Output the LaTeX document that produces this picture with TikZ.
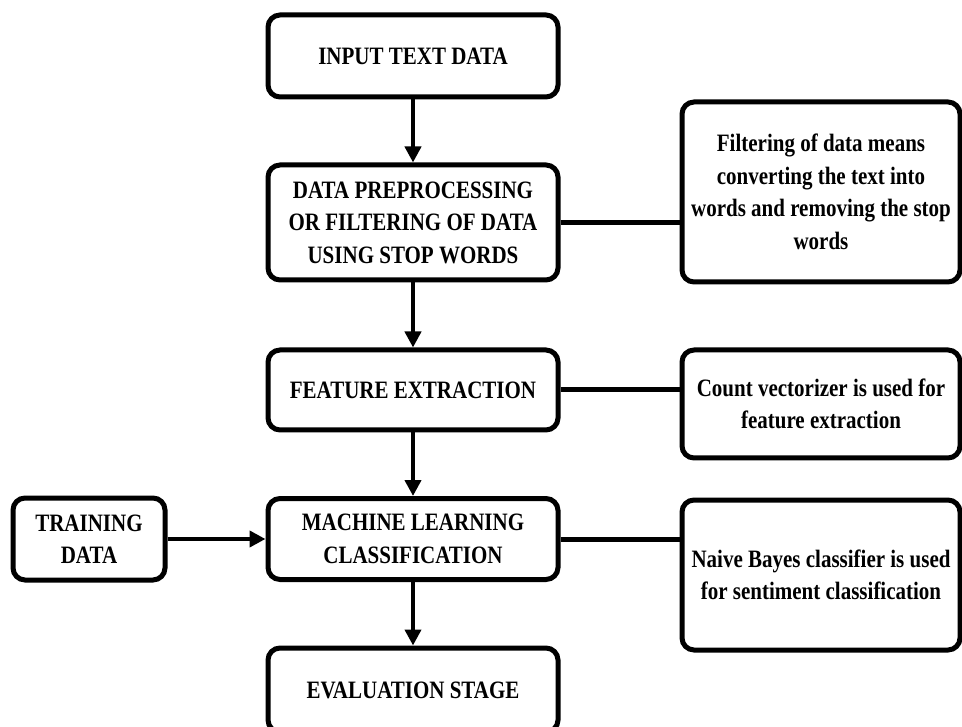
\documentclass[tikz,border=0pt]{standalone}
\usepackage{fontspec}
\setmainfont{Liberation Serif}[FakeStretch=0.84]
\usetikzlibrary{arrows.meta}
\tikzset{
  box/.style={draw=black, line width=5pt, rounded corners=12pt, fill=white,
    align=center, inner sep=0pt, font=\fontsize{25}{32.5}\selectfont\bfseries},
  arr/.style={line width=4.5pt, -{Triangle[length=16pt,width=16pt]}},
  ln/.style={line width=5pt}
}
\begin{document}
\begin{tikzpicture}[x=1pt,y=-1pt]
\useasboundingbox (0,0) rectangle (962,727);
\node[box, minimum width=290, minimum height=82] (input) at (413,56) {INPUT TEXT DATA};
\node[box, minimum width=290, minimum height=115] (prep) at (413,222.5) {DATA PREPROCESSING\\OR FILTERING OF DATA\\USING STOP WORDS};
\node[box, minimum width=290, minimum height=80] (feat) at (413,390) {FEATURE EXTRACTION};
\node[box, minimum width=290, minimum height=81] (ml) at (413,539) {MACHINE LEARNING\\CLASSIFICATION};
\node[box, minimum width=290, minimum height=84] (eval) at (413,690) {EVALUATION STAGE};
\node[box, minimum width=152, minimum height=82] (train) at (89,539) {TRAINING\\DATA};
\node[box, minimum width=278, minimum height=180] (r1) at (821,192) {Filtering of data means\\converting the text into\\words and removing the stop\\words};
\node[box, minimum width=278, minimum height=108] (r2) at (821,404) {Count vectorizer is used for\\feature extraction};
\node[box, minimum width=278, minimum height=150] (r3) at (821,575) {Naive Bayes classifier is used\\for sentiment classification};
\draw[arr] (input) -- (prep);
\draw[arr] (prep) -- (feat);
\draw[arr] (feat) -- (ml);
\draw[arr] (ml) -- (eval);
\draw[arr] (train) -- (ml);
\draw[ln] (prep.east) -- (prep.east -| r1.west);
\draw[ln] (feat.east) -- (feat.east -| r2.west);
\draw[ln] (ml.east) -- (ml.east -| r3.west);
\end{tikzpicture}
\end{document}
